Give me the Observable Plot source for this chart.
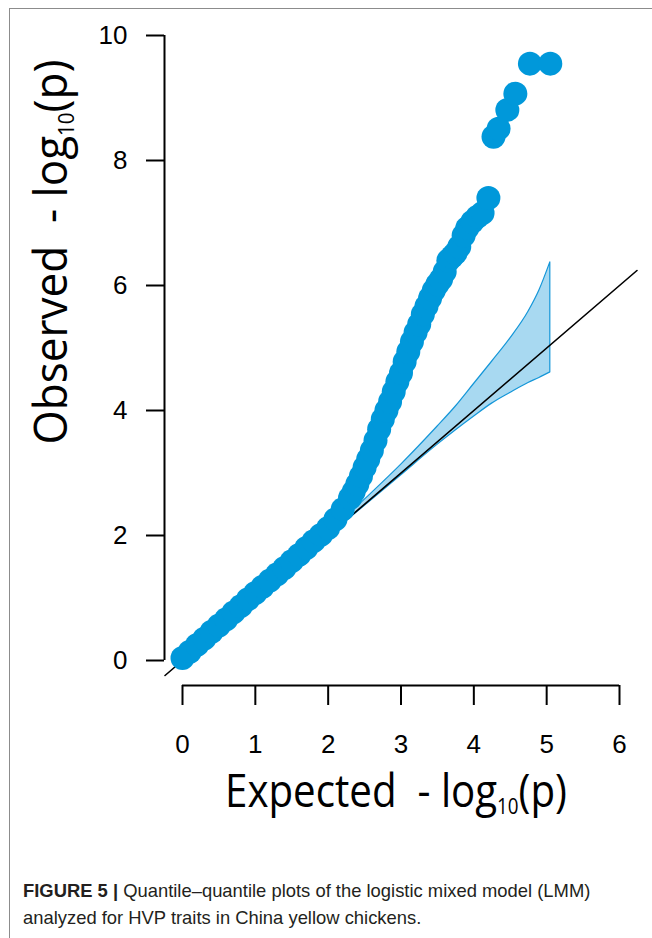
<!DOCTYPE html>
<html><head><meta charset="utf-8">
<script src="https://cdn.jsdelivr.net/npm/d3@7"></script>
<script src="https://cdn.jsdelivr.net/npm/@observablehq/plot@0.6"></script>
<style>
html,body{margin:0;padding:0;background:#fff;width:652px;height:938px;overflow:hidden;}
#frame{position:absolute;left:9px;top:8px;width:660px;height:940px;border-left:1.5px solid #8c8c8c;border-top:1.5px solid #8c8c8c;}
#chart{position:absolute;left:0;top:0;}
#caption{position:absolute;left:23px;top:877px;font-family:"Liberation Sans",Arial,sans-serif;font-size:18.4px;line-height:27px;color:#231f20;white-space:nowrap;}
</style></head><body>
<div id="frame"></div>
<div id="chart"></div>
<div id="caption"><b>FIGURE 5 |</b> Quantile–quantile plots of the logistic mixed model (LMM)<br>analyzed for HVP traits in China yellow chickens.</div>
<script>
// Expected vs observed -log10(p)
const expected = [0.00,0.10,0.20,0.30,0.40,0.50,0.60,0.70,0.80,0.90,1.00,1.10,1.20,1.30,1.40,1.50,1.60,1.70,1.80,1.90,
  2.00,2.10,2.20,2.30,2.35,2.40,2.45,2.50,2.55,2.60,2.65,2.70,2.75,2.80,2.85,2.90,2.95,3.00,3.05,3.10,3.15,3.20,3.25,3.30,
  3.35,3.40,3.45,3.50,3.55,3.60,3.65,3.70,3.75,3.80,3.86,3.91,3.98,4.05,4.12,4.20,4.27,4.34,4.46,4.57,4.77,5.05];
const observed = [0.04,0.14,0.25,0.35,0.46,0.56,0.66,0.77,0.87,0.98,1.08,1.18,1.28,1.38,1.48,1.59,1.69,1.80,1.91,2.01,
  2.12,2.26,2.42,2.60,2.70,2.82,2.95,3.09,3.22,3.36,3.52,3.70,3.86,4.00,4.14,4.30,4.46,4.60,4.78,4.94,5.10,5.25,5.38,5.54,
  5.67,5.80,5.92,6.02,6.10,6.22,6.40,6.46,6.52,6.62,6.80,6.92,7.02,7.10,7.16,7.40,8.38,8.51,8.81,9.07,9.55,9.55];
// confidence band
const bandX     = [2.00,2.50,3.00,3.50,3.75,4.00,4.25,4.50,4.75,4.90,5.05];
const bandLower = [1.99,2.47,2.96,3.45,3.68,3.90,4.11,4.28,4.44,4.52,4.61];
const bandUpper = [2.03,2.57,3.13,3.74,4.06,4.42,4.78,5.15,5.58,5.92,6.37];
// reference diagonal y = x
const diagX = [-0.24, 6.24];
const xTicks = [0,1,2,3,4,5,6];
const yTicks = [0,2,4,6,8,10];

const W = 652, H = 850;
const pts = expected.map((e,i)=>({e, o: observed[i]}));
const band = bandX.map((x,i)=>({x, lo: bandLower[i], hi: bandUpper[i]}));
const diag = diagX.map(v=>({x:v, y:v}));
const yAxisLine = [{x: d3.min(xTicks), y1: d3.min(yTicks), y2: d3.max(yTicks)}];
const xAxisLine = [{y: d3.min(yTicks), x1: d3.min(xTicks), x2: d3.max(xTicks)}];

const chart = Plot.plot({
  width: W, height: H,
  marginLeft: 164, marginRight: 20, marginTop: 20, marginBottom: H - 685,
  x: {domain: [0, 6], range: [182, 619], label: null},
  y: {domain: [0, 10], range: [660, 35], label: null},
  style: {fontFamily: "'Liberation Sans', Arial, sans-serif", fontSize: "26px", color: "#000", background: "transparent", overflow: "visible"},
  marks: [
    Plot.areaY(band, {x: "x", y1: "lo", y2: "hi", curve: "monotone-x", fill: "#a8d9f1", stroke: "#1496d8", strokeWidth: 1.2}),
    Plot.line(diag, {x: "x", y: "y", stroke: "#000", strokeWidth: 1.6}),
    Plot.dot(pts, {x: "e", y: "o", r: 12, fill: "#0098da", stroke: null}),
    Plot.ruleX(yAxisLine, {x: "x", y1: "y1", y2: "y2", dx: -18, stroke: "#000", strokeWidth: 2}),
    Plot.ruleY(xAxisLine, {y: "y", x1: "x1", x2: "x2", dy: 25, stroke: "#000", strokeWidth: 2}),
    Plot.axisY({ticks: yTicks, tickFormat: d3.format("d"), anchor: "left", tickSize: 18, tickPadding: 19, strokeWidth: 2, fontSize: 26, label: null}),
    Plot.axisX({ticks: xTicks, tickFormat: d3.format("d"), anchor: "bottom", tickSize: 20, tickPadding: 29, strokeWidth: 2, fontSize: 26, label: null})
  ]
});
document.getElementById("chart").appendChild(chart);

const svg = d3.select(chart);
function addTitle(word, cx, cy, rot, target) {
  const g = svg.append("g").attr("transform", `translate(${cx},${cy}) rotate(${rot})`);
  const t = g.append("text").attr("text-anchor", "middle")
    .attr("font-family", "'Open Sans', 'Noto Sans', sans-serif").attr("font-size", 45).attr("fill", "#000");
  t.append("tspan").text(word + "\u00a0\u00a0- log");
  t.append("tspan").attr("font-size", 21).attr("dy", 7).text("10");
  t.append("tspan").attr("dy", -7).text("(p)");
  const w = t.node().getBBox().width;
  t.attr("transform", `scale(${target / w},1)`);
}
addTitle("Expected", 396, 807, 0, 342);
addTitle("Observed", 67, 252, -90, 385);
</script>
</body></html>
